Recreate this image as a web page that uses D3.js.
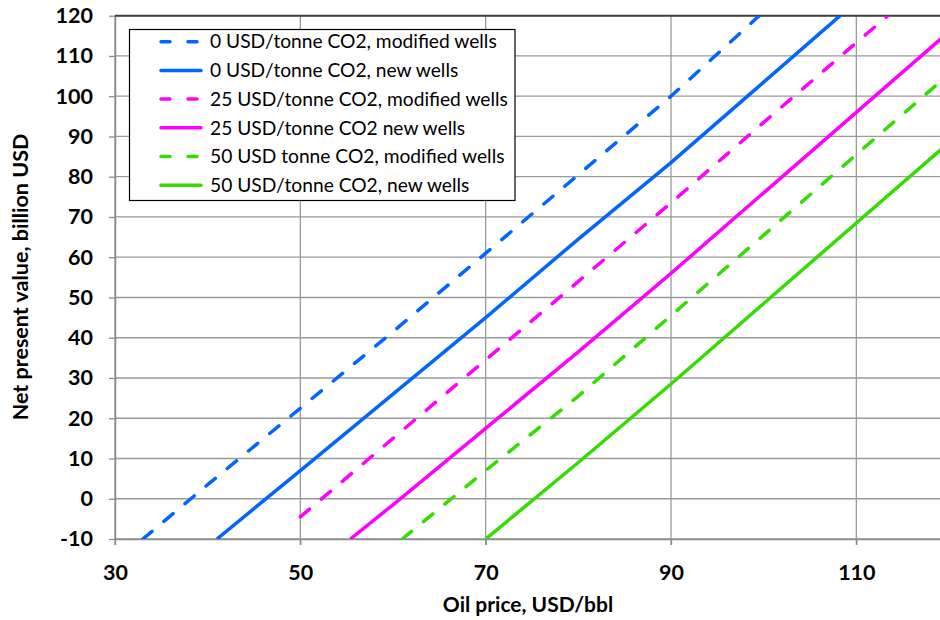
<!DOCTYPE html>
<meta charset="utf-8">
<script src="https://cdn.jsdelivr.net/npm/d3@7/dist/d3.min.js"></script>
<style>
  body { margin: 0; background: #fff; }
  text { font-family: Lato, "Open Sans", sans-serif; fill: #000; }
</style>
<svg></svg>
<script>
    // values
    var xTicks = [30, 50, 70, 90, 110];
    var yTicks = [-10, 0, 10, 20, 30, 40, 50, 60, 70, 80, 90, 100, 110, 120];
    var seriesNames = [
        '0 USD/tonne CO2, modified wells',
        '0 USD/tonne CO2, new wells',
        '25 USD/tonne CO2, modified wells',
        '25 USD/tonne CO2 new wells',
        '50 USD tonne CO2, modified wells',
        '50 USD/tonne CO2, new wells'
    ];
    var seriesColors = ['#0066ff', '#0066ff', '#ff00ff', '#ff00ff', '#33dd00', '#33dd00'];
    var seriesDashed = [true, false, true, false, true, false];

    var usd0ModPrice = [33, 40, 50, 60, 70, 80, 90, 100];
    var usd0ModNpv = [-10, 3.5, 22.5, 41.5, 61, 80.5, 100, 121];
    var usd0NewPrice = [41, 50, 60, 70, 80, 90, 100, 110];
    var usd0NewNpv = [-10, 7, 26, 45, 64.5, 83.5, 103.5, 123.5];
    var usd25ModPrice = [50, 60, 70, 80, 90, 100, 110, 120];
    var usd25ModNpv = [-4.5, 15, 34.5, 54, 73.5, 93.5, 113.3, 133];
    var usd25NewPrice = [55.4, 60, 70, 80, 90, 100, 110, 120];
    var usd25NewNpv = [-10, -1.5, 17.5, 36.5, 56, 76, 96, 116];
    var usd50ModPrice = [61, 70, 80, 90, 100, 110, 120];
    var usd50ModNpv = [-10, 7, 25.5, 45.5, 65.5, 85.5, 105.5];
    var usd50NewPrice = [70, 80, 90, 100, 110, 120];
    var usd50NewNpv = [-10, 9, 28.5, 48.5, 68.5, 88.5];

    var prices = [usd0ModPrice, usd0NewPrice, usd25ModPrice, usd25NewPrice, usd50ModPrice, usd50NewPrice];
    var npvs = [usd0ModNpv, usd0NewNpv, usd25ModNpv, usd25NewNpv, usd50ModNpv, usd50NewNpv];
    var series = seriesNames.map((name, i) => ({
        name: name,
        color: seriesColors[i],
        dashed: seriesDashed[i],
        points: prices[i].map((p, j) => [p, npvs[i][j]])
    }));

    var width = 940, height = 620;
    var svg = d3.select('svg').attr('width', width).attr('height', height);

    var x = d3.scaleLinear().domain([30, 120]).range([115, 949]);
    var y = d3.scaleLinear().domain([-10, 120]).range([539, 15.7]);

    // grid
    svg.append('g').selectAll('line').data(yTicks).enter().append('line')
        .attr('x1', x(30)).attr('x2', width)
        .attr('y1', d => y(d)).attr('y2', d => y(d))
        .attr('stroke', '#9a9a9a').attr('stroke-width', 1.3);
    svg.append('g').selectAll('line').data(xTicks).enter().append('line')
        .attr('x1', d => x(d)).attr('x2', d => x(d))
        .attr('y1', y(120)).attr('y2', y(-10) + 6)
        .attr('stroke', '#9a9a9a').attr('stroke-width', 1.3);

    // axes
    var yAxis = d3.axisLeft(y).tickValues(yTicks).tickSize(6).tickPadding(16)
        .tickFormat(d => String(d));
    var gy = svg.append('g').attr('transform', 'translate(' + x(30) + ',0)').call(yAxis);
    var xAxis = d3.axisBottom(x).tickValues(xTicks).tickSize(6).tickPadding(20)
        .tickFormat(d => String(d));
    var gx = svg.append('g').attr('transform', 'translate(0,' + y(-10) + ')').call(xAxis);
    [gx, gy].forEach(g => {
        g.select('.domain').attr('stroke', '#8c8c8c').attr('stroke-width', 1.5);
        g.selectAll('.tick line').attr('stroke', '#8c8c8c').attr('stroke-width', 1.3);
        g.selectAll('.tick text').attr('font-size', 21.5).attr('font-weight', 'bold')
            .attr('font-family', 'Lato, sans-serif').attr('fill', '#000');
    });
    gx.select('.domain').attr('d', 'M' + x(30) + ',0.5H' + width);
    gy.select('.domain').attr('d', 'M0.5,' + y(-10) + 'V' + y(120));

    // top border
    svg.append('line')
        .attr('x1', x(30)).attr('x2', width)
        .attr('y1', y(120)).attr('y2', y(120))
        .attr('stroke', '#404040').attr('stroke-width', 2);

    // lines
    svg.append('clipPath').attr('id', 'plot').append('rect')
        .attr('x', x(30)).attr('y', y(120))
        .attr('width', x(120) - x(30)).attr('height', y(-10) - y(120));
    var line = d3.line().x(d => x(d[0])).y(d => y(d[1]));
    svg.append('g').attr('clip-path', 'url(#plot)')
        .selectAll('path').data(series).enter().append('path')
        .attr('d', d => line(d.points))
        .attr('fill', 'none')
        .attr('stroke', d => d.color)
        .attr('stroke-width', 3.5)
        .attr('stroke-linecap', d => d.dashed ? 'round' : 'butt')
        .attr('stroke-dasharray', d => d.dashed ? '12,15.5' : null);

    // legend
    var legend = svg.append('g');
    legend.append('rect')
        .attr('x', 129.5).attr('y', 29.5).attr('width', 385.5).attr('height', 171)
        .attr('fill', '#fff').attr('stroke', '#000').attr('stroke-width', 1.2);
    var items = legend.selectAll('g.item').data(series).enter().append('g')
        .attr('class', 'item')
        .attr('transform', (d, i) => 'translate(0,' + (41.7 + i * 28.7) + ')');
    items.append('line')
        .attr('x1', 161).attr('x2', 201).attr('y1', 0).attr('y2', 0)
        .attr('stroke', d => d.color).attr('stroke-width', 3.5)
        .attr('stroke-linecap', 'round')
        .attr('stroke-dasharray', d => d.dashed ? '9,18' : null);
    items.append('text')
        .attr('x', 210).attr('y', 0).attr('dy', '0.35em')
        .attr('font-size', 19.2)
        .text(d => d.name);

    // axis titles
    svg.append('text')
        .attr('x', 528).attr('y', 605).attr('dy', '0.35em')
        .attr('text-anchor', 'middle').attr('font-size', 21).attr('font-weight', 'bold')
        .text('Oil price, USD/bbl');
    svg.append('text')
        .attr('transform', 'translate(20,277) rotate(-90)')
        .attr('dy', '0.35em')
        .attr('text-anchor', 'middle').attr('font-size', 21.5).attr('font-weight', 'bold')
        .text('Net present value, billion USD');
</script>
